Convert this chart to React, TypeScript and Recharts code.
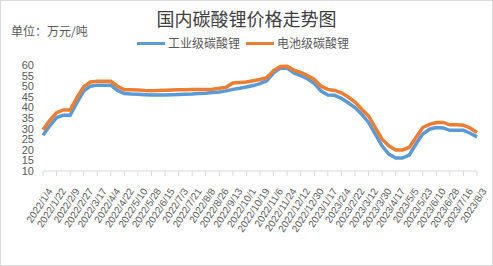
import React from "react";
import { LineChart, Line, XAxis, YAxis } from "recharts";

// every 9 days, labels shown on every other point
const dates = [
  "2022/1/4", "2022/1/13", "2022/1/22", "2022/1/31", "2022/2/9", "2022/2/18", "2022/2/27", "2022/3/8",
  "2022/3/17", "2022/3/26", "2022/4/4", "2022/4/13", "2022/4/22", "2022/5/1", "2022/5/10", "2022/5/19",
  "2022/5/28", "2022/6/6", "2022/6/15", "2022/6/24", "2022/7/3", "2022/7/12", "2022/7/21", "2022/7/30",
  "2022/8/8", "2022/8/17", "2022/8/26", "2022/9/4", "2022/9/13", "2022/9/22", "2022/10/1", "2022/10/10",
  "2022/10/19", "2022/10/28", "2022/11/6", "2022/11/15", "2022/11/24", "2022/12/3", "2022/12/12", "2022/12/21",
  "2022/12/30", "2023/1/8", "2023/1/17", "2023/1/26", "2023/2/4", "2023/2/13", "2023/2/22", "2023/3/3",
  "2023/3/12", "2023/3/21", "2023/3/30", "2023/4/8", "2023/4/17", "2023/4/26", "2023/5/5", "2023/5/14",
  "2023/5/23", "2023/6/1", "2023/6/10", "2023/6/19", "2023/6/28", "2023/7/7", "2023/7/16", "2023/7/25",
  "2023/8/3",
];

// 工业级碳酸锂 (万元/吨)
const industrial = [
  26.9, 31.3, 35.2, 36.3, 36.3, 42.2, 47.7, 50.0, 50.5, 50.5, 50.5, 48.0, 46.5, 46.3, 46.2, 46.0,
  45.8, 45.8, 45.9, 46.0, 46.1, 46.2, 46.3, 46.5, 46.7, 47.0, 47.3, 47.8, 48.5, 49.0, 49.6, 50.3,
  51.2, 52.6, 56.3, 58.5, 58.5, 56.3, 55.0, 53.5, 51.3, 47.7, 45.8, 45.7, 44.3, 42.2, 39.9, 36.8,
  32.9, 27.4, 21.9, 18.0, 16.1, 16.1, 17.5, 22.7, 27.4, 29.7, 30.5, 30.3, 29.2, 29.2, 29.2, 27.8,
  26.1,
];

// 电池级碳酸锂 (万元/吨)
const battery = [
  29.4, 33.9, 37.5, 38.8, 38.8, 44.6, 49.8, 52.0, 52.3, 52.3, 52.3, 50.0, 48.3, 48.3, 48.2, 48.0,
  47.9, 48.0, 48.1, 48.2, 48.3, 48.3, 48.4, 48.4, 48.5, 48.6, 49.0, 49.5, 51.5, 51.8, 52.0, 52.6,
  53.2, 54.0, 57.4, 59.3, 59.4, 57.6, 56.5, 55.0, 53.2, 50.0, 48.5, 48.0, 46.9, 44.9, 42.5, 39.1,
  36.0, 30.5, 25.0, 21.9, 19.9, 19.9, 21.1, 25.8, 30.5, 32.0, 32.9, 32.9, 31.8, 31.8, 31.6, 30.2,
  28.2,
];

const yTicks = [10, 15, 20, 25, 30, 35, 40, 45, 50, 55, 60];

const seriesNames = ["工业级碳酸锂", "电池级碳酸锂"];
const colors = ["#5b9bd5", "#ed7d31"];

const data = dates.map((date, i) => ({
  date,
  industrial: industrial[i],
  battery: battery[i],
}));

const font = '"Noto Sans CJK SC", "Noto Sans", sans-serif';
const numFont = '"Liberation Sans", Arial, sans-serif';

const AngledTick = (props: any) => {
  const { x, y, payload } = props;
  return (
    <g transform={`translate(${x + 10},${y + 13})`}>
      <text
        x={0}
        y={0}
        textAnchor="end"
        transform="rotate(-57)"
        fill="#595959"
        fontSize={10}
        fontFamily={numFont}
      >
        {payload.value}
      </text>
    </g>
  );
};

const App: React.FC = () => {
  return (
    <div
      style={{
        position: "absolute",
        left: 0,
        top: 0,
        width: 493,
        height: 266,
        background: "#fff",
        fontFamily: font,
      }}
    >
      <LineChart
        width={493}
        height={266}
        data={data}
        margin={{ top: 65, right: 16, bottom: 0, left: 0 }}
      >
        <XAxis
          dataKey="date"
          interval={1}
          height={95}
          tickSize={5}
          axisLine={{ stroke: "#d9d9d9" }}
          tickLine={{ stroke: "#d9d9d9" }}
          tick={<AngledTick />}
        />
        <YAxis
          width={43}
          domain={[10, 60]}
          ticks={yTicks}
          interval={0}
          axisLine={false}
          tickLine={false}
          tickSize={0}
          tickMargin={9}
          tick={{ fill: "#595959", fontSize: 11, fontFamily: numFont }}
        />
        <Line
          type="linear"
          dataKey="industrial"
          name={seriesNames[0]}
          stroke={colors[0]}
          strokeWidth={3.5}
          dot={false}
          isAnimationActive={false}
        />
        <Line
          type="linear"
          dataKey="battery"
          name={seriesNames[1]}
          stroke={colors[1]}
          strokeWidth={3.5}
          dot={false}
          isAnimationActive={false}
        />
      </LineChart>

      {/* title */}
      <div
        style={{
          position: "absolute",
          left: 0,
          width: 493,
          top: 6,
          textAlign: "center",
          fontSize: 18,
          color: "#404040",
          lineHeight: "24px",
        }}
      >
        国内碳酸锂价格走势图
      </div>

      {/* unit */}
      <div
        style={{
          position: "absolute",
          left: 11,
          top: 22,
          fontSize: 12,
          color: "#595959",
          lineHeight: "18px",
        }}
      >
        单位：万元/吨
      </div>

      {/* legend */}
      <div
        style={{
          position: "absolute",
          left: 137,
          top: 34,
          display: "flex",
          alignItems: "center",
          fontSize: 12,
          color: "#595959",
          lineHeight: "18px",
        }}
      >
        {seriesNames.map((name, i) => (
          <div key={name} style={{ display: "flex", alignItems: "center", marginRight: 6 }}>
            <span
              style={{
                display: "inline-block",
                width: 28,
                height: 3,
                background: colors[i],
                marginRight: 3,
              }}
            />
            {name}
          </div>
        ))}
      </div>

      {/* chart border */}
      <div
        style={{
          position: "absolute",
          left: 0,
          top: 0,
          width: 493,
          height: 266,
          boxSizing: "border-box",
          border: "1px solid #d9d9d9",
          pointerEvents: "none",
        }}
      />
    </div>
  );
};

export default App;
